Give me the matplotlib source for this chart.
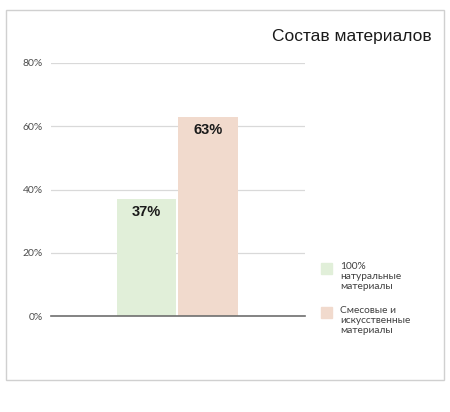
import matplotlib.pyplot as plt
from matplotlib.patches import Rectangle

title = "Состав материалов"
categories = ["100%\nнатуральные\nматериалы", "Смесовые и\nискусственные\nматериалы"]
values = [0.37, 0.63]
colors = ["#e1efd9", "#f1dacd"]
yticks = [0.0, 0.2, 0.4, 0.6, 0.8]
ytick_labels = ["0%", "20%", "40%", "60%", "80%"]

fig = plt.figure(figsize=(4.5, 4.12), dpi=100)
fig.patch.set_facecolor("white")

# outer frame like a spreadsheet chart box
fig.add_artist(Rectangle((6 / 450, 1 - 380 / 412), 438 / 450, 370 / 412,
                         transform=fig.transFigure, fill=False,
                         edgecolor="#d0d0d0", linewidth=1.0))

ax = fig.add_axes([51 / 450, 1 - 316 / 412, 254 / 450, 253 / 412])
for s in ax.spines.values():
    s.set_visible(False)

ax.set_ylim(0, 0.8)
ax.set_xlim(-1.553, 2.577)
ax.set_yticks(yticks)
ax.set_yticklabels(ytick_labels, fontsize=7.5, color="#4d4d4d", family="Lato")
ax.tick_params(axis="y", length=0, pad=6)
ax.set_xticks([])
for y in yticks[1:]:
    ax.axhline(y, color="#d9d9d9", linewidth=0.9, zorder=0)
ax.axhline(0, color="#6e6e6e", linewidth=1.2, zorder=3, clip_on=False)

for i, (v, c) in enumerate(zip(values, colors)):
    ax.bar(i, v, width=0.96, color=c, zorder=2)
    ax.text(i, v - 0.042, f"{round(v * 100)}%", ha="center", va="center",
            fontsize=10.5, fontweight="bold", color="#1a1a1a",
            family="Liberation Sans")

fig.text(432 / 450, 1 - 37 / 412, title, ha="right", va="center",
         fontsize=12.5, color="#1a1a1a", family="Liberation Sans")

# legend, drawn by hand so the swatch lines up with the first text line
leg_tops = [263, 307]
for top, c, lab in zip(leg_tops, colors, categories):
    fig.add_artist(Rectangle((321 / 450, 1 - (top + 11) / 412), 11 / 450, 11 / 412,
                             transform=fig.transFigure, color=c))
    fig.text(340 / 450, 1 - (top - 1) / 412, lab, ha="left", va="top",
             fontsize=7.3, color="#404040", family="Lato", linespacing=1.15)

fig.savefig("out.png", dpi=100)
